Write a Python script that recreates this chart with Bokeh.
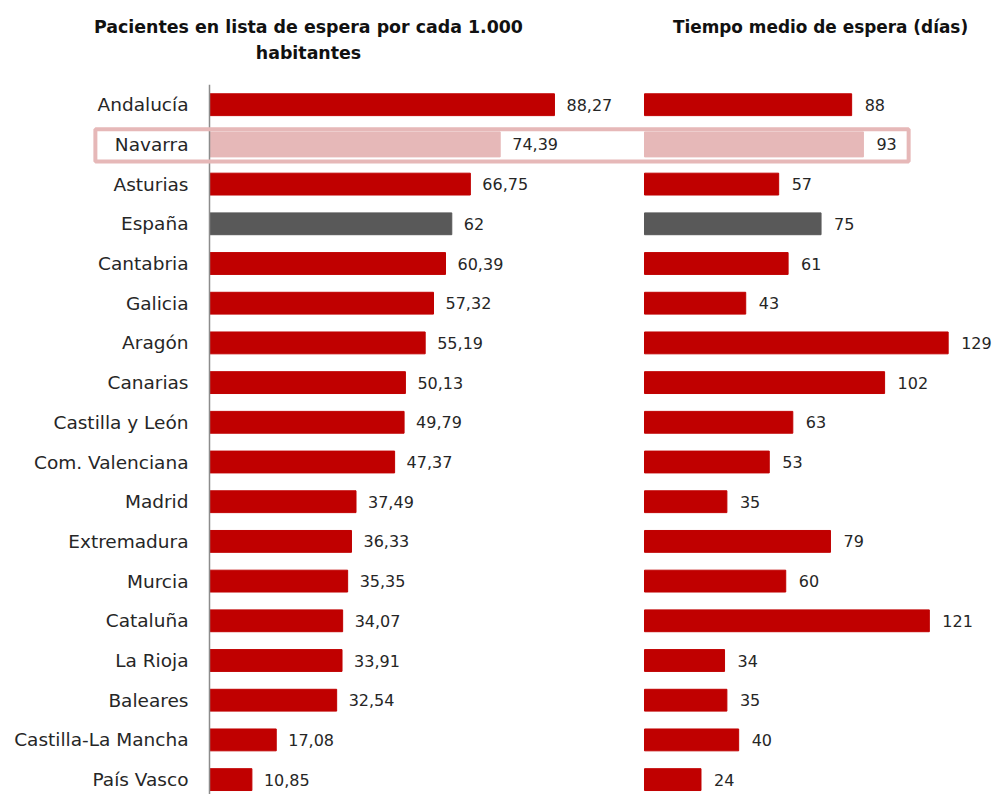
from bokeh.plotting import figure
from bokeh.models import ColumnDataSource, Range1d
from bokeh.core.properties import value
from bokeh.embed import file_html
from bokeh.resources import INLINE

regions = ["Andalucía", "Navarra", "Asturias", "España", "Cantabria", "Galicia",
           "Aragón", "Canarias", "Castilla y León", "Com. Valenciana", "Madrid",
           "Extremadura", "Murcia", "Cataluña", "La Rioja", "Baleares",
           "Castilla-La Mancha", "País Vasco"]
pacientes = [88.27, 74.39, 66.75, 62, 60.39, 57.32, 55.19, 50.13, 49.79, 47.37,
             37.49, 36.33, 35.35, 34.07, 33.91, 32.54, 17.08, 10.85]
dias = [88, 93, 57, 75, 61, 43, 129, 102, 63, 53, 35, 79, 60, 121, 34, 35, 40, 24]
highlight = "Navarra"
total = "España"

title_left = ["Pacientes en lista de espera por cada 1.000", "habitantes"]
title_right = ["Tiempo medio de espera (días)"]

RED = "#c00000"
PINK = "#e6b8b8"
GRAY = "#595959"
FONT = "DejaVu Sans"
TXT = "#262626"


def fmt(v):
    if float(v).is_integer():
        return str(int(v))
    return f"{v:.2f}".replace(".", ",")


idx = list(range(len(regions)))
colors = [PINK if r == highlight else GRAY if r == total else RED for r in regions]
heights = [0.63 if r == highlight else 0.55 for r in regions]

src = ColumnDataSource(dict(
    y=idx, region=regions, pac=pacientes, dias=dias, color=colors, h=heights,
    pac_lbl=[fmt(v) for v in pacientes], dias_lbl=[fmt(v) for v in dias],
    zero=[0] * len(regions),
))

W, H = 992, 794
ROW = 39.7          # px per row
ROW0 = 104.2        # screen y of first row centre
AX_L = 209          # screen x of left panel zero
SC_L = 3.908        # px per unit, left panel
AX_R = 644          # screen x of right panel zero
SC_R = 2.354        # px per unit, right panel

p = figure(width=W, height=H, output_backend="svg", toolbar_location=None,
           x_axis_location=None, y_axis_location=None,
           x_range=Range1d(-AX_L / SC_L, (W - AX_L) / SC_L),
           y_range=Range1d((H - ROW0) / ROW, -ROW0 / ROW),
           min_border_left=0, min_border_right=0, min_border_bottom=0,
           min_border_top=0)
p.extra_x_ranges = {"right": Range1d(-AX_R / SC_R, (W - AX_R) / SC_R)}
p.outline_line_color = None
p.xgrid.visible = False
p.ygrid.visible = False

# bars
p.hbar(y="y", left=0, right="pac", height="h", fill_color="color",
       line_color="color", source=src)
p.hbar(y="y", left=0, right="dias", height="h", fill_color="color",
       line_color="color", source=src, x_range_name="right")

# vertical axis line of the left panel (from top of first row downwards)
p.segment(x0=[0], y0=[-0.5], x1=[0], y1=[len(regions)], line_color="#8c8c8c",
          line_width=1.5)

# category labels
p.text(x="zero", y="y", text="region", source=src, text_align="right",
       text_baseline="middle", x_offset=-21, text_font=value(FONT),
       text_font_size="18.5px", text_color=TXT)
# value labels
p.text(x="pac", y="y", text="pac_lbl", source=src, text_align="left",
       text_baseline="middle", x_offset=12, text_font=value(FONT),
       text_font_size="16px", text_color=TXT)
p.text(x="dias", y="y", text="dias_lbl", source=src, text_align="left",
       text_baseline="middle", x_offset=13, text_font=value(FONT),
       text_font_size="16px", text_color=TXT, x_range_name="right")

# highlight box around the highlighted row
hi = regions.index(highlight)
p.quad(left=-29.2, right=178.9, top=hi - 0.383, bottom=hi + 0.43,
       fill_color=None, line_color=PINK, line_width=4)

# titles (two panels)
tl_y = [(26 - ROW0) / ROW, (52 - ROW0) / ROW]
p.text(x=[(308 - AX_L) / SC_L] * 2, y=tl_y, text=title_left,
       text_align="center", text_baseline="middle", text_font=value(FONT),
       text_font_size="17.4px", text_font_style="bold", text_color="#111111")
p.text(x=[(820 - AX_R) / SC_R], y=tl_y[:1], text=title_right,
       text_align="center", text_baseline="middle", text_font=value(FONT),
       text_font_size="16.9px", text_font_style="bold", text_color="#111111",
       x_range_name="right")

open("out.html", "w").write(file_html(p, INLINE))
